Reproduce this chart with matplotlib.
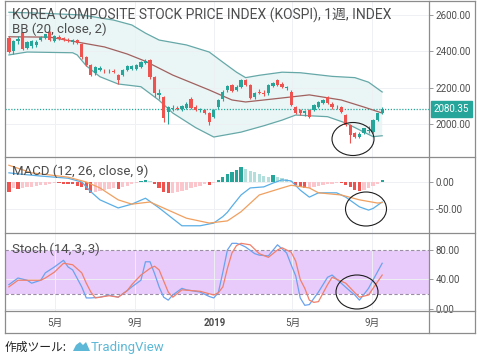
import numpy as np
import pandas as pd
import matplotlib
matplotlib.use("Agg")
import matplotlib.pyplot as plt
import matplotlib.dates as mdates
from matplotlib.patches import Ellipse, Polygon
from matplotlib.lines import Line2D

plt.rcParams['font.family'] = ['Roboto', 'Noto Sans CJK JP', 'DejaVu Sans']

W, H = 480, 361

# ---------------- data ----------------
weeks = pd.date_range("2018-02-19", periods=83, freq="7D")

opens = [2472, 2400, 2458, 2500, 2418, 2430, 2432, 2462, 2474, 2505,
         2458, 2478, 2472, 2465, 2450, 2462, 2440, 2368, 2322, 2278,
         2298, 2292, 2290, 2291, 2270, 2272, 2298, 2305, 2302, 2315,
         2338, 2350, 2258, 2160, 2148, 2064, 2085, 2088, 2080, 2090,
         2140, 2092, 2075, 2078, 2060, 2040, 2092, 2135, 2186, 2212,
         2185, 2205, 2240, 2212, 2150, 2175, 2170, 2168, 2210, 2242,
         2222, 2198, 2178, 2092, 2075, 2058, 2075, 2076, 2094, 2115,
         2148, 2110, 2094, 2092, 2049, 1994, 1950, 1930, 1950, 1960,
         1956, 2022, 2060]
highs = [2482, 2465, 2485, 2505, 2458, 2462, 2460, 2482, 2498, 2510,
         2490, 2488, 2480, 2475, 2468, 2470, 2445, 2372, 2330, 2318,
         2318, 2305, 2302, 2300, 2275, 2300, 2322, 2325, 2328, 2345,
         2355, 2358, 2262, 2192, 2155, 2100, 2105, 2100, 2105, 2120,
         2148, 2105, 2090, 2085, 2065, 2080, 2135, 2185, 2215, 2220,
         2215, 2248, 2248, 2218, 2175, 2190, 2185, 2218, 2232, 2250,
         2232, 2210, 2185, 2098, 2080, 2078, 2080, 2108, 2124, 2136,
         2152, 2120, 2102, 2100, 2055, 2000, 1958, 1955, 1980, 1990,
         2025, 2062, 2092]
lows = [2390, 2385, 2440, 2405, 2410, 2420, 2425, 2455, 2468, 2455,
        2450, 2462, 2455, 2450, 2440, 2440, 2360, 2318, 2262, 2270,
        2290, 2282, 2278, 2280, 2222, 2265, 2292, 2298, 2295, 2310,
        2330, 2250, 2150, 2140, 2008, 2000, 2070, 2075, 2070, 2080,
        2080, 2070, 2065, 2055, 1995, 2030, 2085, 2125, 2178, 2175,
        2180, 2200, 2210, 2135, 2140, 2165, 2155, 2162, 2205, 2208,
        2198, 2188, 2098, 2055, 2050, 2045, 2030, 2070, 2088, 2110,
        2110, 2085, 2085, 2060, 1990, 1895, 1920, 1922, 1945, 1952,
        1950, 2018, 2055]
closes = [2398, 2458, 2470, 2415, 2450, 2455, 2452, 2478, 2494, 2462,
          2482, 2470, 2462, 2458, 2462, 2448, 2368, 2326, 2272, 2312,
          2310, 2289, 2294, 2287, 2242, 2296, 2318, 2320, 2322, 2340,
          2345, 2260, 2168, 2172, 2030, 2094, 2090, 2082, 2098, 2112,
          2090, 2078, 2083, 2062, 2008, 2075, 2130, 2178, 2210, 2180,
          2205, 2240, 2216, 2145, 2168, 2172, 2165, 2212, 2226, 2215,
          2204, 2204, 2106, 2060, 2060, 2072, 2040, 2104, 2120, 2132,
          2115, 2094, 2092, 2066, 1996, 1940, 1929, 1945, 1975, 1967,
          2020, 2058, 2080.35]
last_price = 2080.35

# Bollinger bands (week index, value)
bb_up_idx = [0, 7, 16, 23, 27, 30, 33, 39, 44, 47, 50, 52, 55, 60, 64, 71, 76, 79, 82]
bb_up = [2615, 2610, 2600, 2572, 2545, 2500, 2462, 2435, 2396, 2340, 2285, 2255,
         2268, 2285, 2282, 2262, 2255, 2230, 2176]
bb_mid_idx = [0, 9, 15, 21, 26, 30, 36, 44, 49, 52, 60, 66, 73, 78, 82]
bb_mid = [2480, 2478, 2451, 2424, 2385, 2345, 2269, 2187, 2132, 2121, 2143, 2160,
          2132, 2093, 2060]
bb_lo_idx = [0, 4, 14, 15, 17, 20, 24, 29, 33, 36, 41, 45, 51, 56, 60, 63, 70, 74, 78, 80, 82]
bb_lo = [2380, 2396, 2392, 2380, 2320, 2260, 2220, 2205, 2130, 2060, 1980, 1928,
         1955, 1990, 2021, 2049, 2040, 2005, 1955, 1930, 1935]

# MACD
macd_idx = [0, 2, 7, 13, 16, 18, 20, 24, 27, 30, 33, 38, 42, 45, 46, 47, 48, 49,
            51, 53, 56, 58, 60, 62, 64, 66, 68, 72, 74, 77, 79, 80, 82]
macd = [17, 15, 11, 7, 0, -18, -33, -48, -41, -30, -48, -81, -81, -76, -70, -64,
        -56, -45, -24, -11, -9, -2, 4, 2, -15, -28, -20, -20, -28, -46, -52, -49, -37]
signal_idx = [0, 5, 13, 17, 20, 24, 27, 31, 35, 39, 44, 48, 51, 55, 60, 62, 66,
              68, 73, 77, 81, 82]
signal = [31, 17, 9, 0, -11, -33, -41, -37, -52, -67, -76, -72, -55, -24, -11,
          -6, -11, -20, -24, -33, -39, -38]
hist = [-18, -11, -13, -11, -10, -9, -8, -6, -5, -3,
        -1, -2, -3, -3, -4, -7, -9, -14, -20, -19,
        -17, -15, -13, -11, -13, -10, -7, -4, -2, 2,
        3, 1, -4, -12, -18, -21, -20, -18, -16, -14,
        -12, -10, -8, -4, -5, -2, 4, 9, 14, 18,
        22, 28, 24, 21, 18, 15, 12, 10, 13, 10,
        8, 5, 2, -5, -10, -12, -11, -9, -7, -5,
        -4, -3, -1, -1, -5, -10, -15, -17, -15, -11,
        -7, -3, 3]

# Stochastic
k_idx = [0, 2, 4, 5, 7, 8, 10, 12, 13, 14, 16, 17, 18, 20, 22, 24, 26, 27, 29, 30,
         31, 32, 33, 34, 35, 36, 38, 39, 42, 44, 45, 46, 47, 48, 49, 50, 51, 52,
         54, 55, 57, 59, 61, 62, 63, 64, 65, 66, 68, 70, 71, 73, 75, 76, 77, 79, 82]
k_line = [33, 42, 39, 35, 39, 49, 57, 66, 57, 53, 30, 15, 15, 16, 19, 16, 25, 30, 39, 64,
          64, 48, 30, 16, 12, 19, 28, 26, 23, 17, 15, 22, 50, 80, 89, 89, 87, 84,
          75, 73, 72, 87, 76, 60, 45, 15, 5, 6, 23, 43, 46, 35, 24, 19, 12, 28, 62]
d_idx = [0, 2, 5, 7, 8, 10, 12, 14, 16, 17, 18, 19, 22, 24, 26, 27, 29, 31, 32, 33,
         34, 35, 36, 38, 42, 45, 46, 47, 48, 49, 50, 51, 53, 55, 57, 59, 60, 62, 63,
         64, 65, 66, 67, 68, 70, 71, 74, 76, 77, 79, 82]
d_line = [30, 39, 39, 39, 42, 50, 62, 60, 49, 35, 23, 15, 18, 16, 25, 33, 46, 55, 58, 53,
          38, 23, 16, 26, 24, 19, 22, 30, 55, 76, 86, 89, 87, 75, 70, 80, 83, 77, 65,
          40, 28, 12, 9, 10, 33, 43, 35, 22, 16, 19, 46]

month_ticks = ["2018-05-01", "2018-09-01", "2019-01-01", "2019-05-01", "2019-09-01"]
month_labels = ["5月", "9月", "2019", "5月", "9月"]

# ---------------- colours ----------------
UP, DOWN = "#26a69a", "#ef5350"
BAND, BASIS, BAND_FILL = "#66a8a8", "#a0615f", "#eaf5f5"
FRAME, TXT, GRID = "#8c8c8c", "#4d4d4d", "#eef0f3"


def box(x0, y0, x1, y1):
    return [x0 / W, 1 - y1 / H, (x1 - x0) / W, (y1 - y0) / H]


def fx(x):
    return x / W


def fy(y):
    return 1 - y / H


fig = plt.figure(figsize=(4.8, 3.61), dpi=100)
ax1 = fig.add_axes(box(5, 1, 429, 157))
ax2 = fig.add_axes(box(5, 157, 429, 233), sharex=ax1)
ax3 = fig.add_axes(box(5, 233, 429, 311), sharex=ax1)

xd = mdates.date2num(weeks)
tick_x = mdates.date2num(pd.to_datetime(month_ticks))

for ax in (ax1, ax2, ax3):
    for s in ax.spines.values():
        s.set_visible(False)
    ax.set_axisbelow(True)
    ax.yaxis.tick_right()
    ax.tick_params(axis="y", direction="out", length=3, width=0.6, color=FRAME,
                   labelcolor=TXT, labelsize=7, pad=2)
    ax.set_xticks(tick_x)
    ax.grid(True, color=GRID, lw=0.7)

# ---------------- price panel ----------------
o, h, l, c = map(np.array, (opens, highs, lows, closes))
col = np.where(c >= o, UP, DOWN)
xu, xl = xd[bb_up_idx], xd[bb_lo_idx]
ax1.fill(np.r_[xu, xl[::-1]], np.r_[bb_up, bb_lo[::-1]], color=BAND_FILL, lw=0, zorder=0.5)
ax1.plot(xu, bb_up, color=BAND, lw=0.9, zorder=1.5)
ax1.plot(xl, bb_lo, color=BAND, lw=0.9, zorder=1.5)
ax1.plot(xd[bb_mid_idx], bb_mid, color=BASIS, lw=0.9, zorder=1.5)
ax1.axhline(last_price, color=UP, lw=0.9, ls=(0, (1, 1.3)), zorder=1)
ax1.vlines(xd, l, h, color=col, lw=0.8, zorder=2)
ax1.bar(xd, np.maximum(np.abs(c - o), 2), bottom=np.minimum(o, c), width=5.0,
        color=col, lw=0, zorder=2.5)
ax1.set_ylim(1818, 2677)
ax1.set_yticks([2000, 2200, 2400, 2600])
ax1.set_yticklabels([f"{v:.2f}" for v in [2000, 2200, 2400, 2600]])
ax1.annotate(f"{last_price:.2f}", xy=(1.0, last_price), xycoords=("axes fraction", "data"),
             xytext=(3.5, 0), textcoords="offset points", va="center", ha="left",
             fontsize=7, color="white",
             bbox=dict(boxstyle="square,pad=0.3", fc=UP, ec=UP))

# ---------------- MACD panel ----------------
hv = np.array(hist, dtype=float)
prev = np.r_[hv[0], hv[:-1]]
hcol = np.where(hv >= 0, np.where(hv >= prev, "#26a69a", "#b2dfdb"),
                np.where(hv <= prev, "#ef5350", "#fbc6cc"))
ax2.bar(xd, hv, width=5.0, color=hcol, lw=0, zorder=2)
ax2.plot(xd[macd_idx], macd, color="#5aaee6", lw=0.9, zorder=3)
ax2.plot(xd[signal_idx], signal, color="#f0a060", lw=0.9, zorder=3)
ax2.set_ylim(-94.4, 46.3)
ax2.set_yticks([0, -50])
ax2.set_yticklabels(["0.00", "-50.00"])

# ---------------- Stoch panel ----------------
ax3.axhspan(20, 80, color="#e8cbfa", lw=0, zorder=0.5)
for lev in (80, 20):
    ax3.axhline(lev, color="#9d8ca6", lw=0.8, ls=(0, (3, 2)), zorder=1)
ax3.plot(xd[k_idx], k_line, color="#6aa2ef", lw=0.9, zorder=3)
ax3.plot(xd[d_idx], d_line, color="#f0806c", lw=0.9, zorder=3)
ax3.set_ylim(-2.7, 103)
ax3.set_yticks([0, 40, 80])
ax3.set_yticklabels(["0.00", "40.00", "80.00"])

ax3.set_xlim(mdates.date2num(pd.Timestamp("2018-02-13")),
             mdates.date2num(pd.Timestamp("2019-11-27")))
ax3.set_xticklabels(month_labels)
ax3.tick_params(axis="x", length=0, pad=5, labelsize=7, labelcolor=TXT)
for lab in ax3.get_xticklabels():
    if lab.get_text() == "2019":
        lab.set_fontweight("bold")
for ax in (ax1, ax2):
    ax.tick_params(axis="x", length=0, labelbottom=False)

# ---------------- labels ----------------
fig.text(fx(12), fy(15), "KOREA COMPOSITE STOCK PRICE INDEX (KOSPI), 1週, INDEX",
         fontsize=10, color=TXT, va="center")
fig.text(fx(12), fy(29), "BB (20, close, 2)", fontsize=9.5, color=TXT, va="center")
fig.text(fx(12), fy(171), "MACD (12, 26, close, 9)", fontsize=9.5, color=TXT, va="center")
fig.text(fx(12), fy(249), "Stoch (14, 3, 3)", fontsize=9.5, color=TXT, va="center")

# ---------------- frame ----------------
def line(x0, y0, x1, y1):
    fig.add_artist(Line2D([fx(x0), fx(x1)], [fy(y0), fy(y1)], transform=fig.transFigure,
                          color=FRAME, lw=0.9))

line(5, 1, 475, 1)
line(5, 333, 475, 333)
line(5, 1, 5, 333)
line(475, 1, 475, 333)
line(429, 1, 429, 333)
for yy in (157, 233, 311):
    line(5, yy, 475, yy)

# hand-drawn circles
for cx, cy, ew, eh in [(353, 139, 42, 33), (366, 209, 41, 34), (357, 292, 42, 34)]:
    fig.add_artist(Ellipse((fx(cx), fy(cy)), ew / W, eh / H, transform=fig.transFigure,
                           fill=False, ec="#1e1e1e", lw=0.8))

# footer
fig.text(fx(5), fy(347), "作成ツール:", fontsize=8.5, color="#222222", va="center",
         family=["Noto Sans CJK JP", "DejaVu Sans"])
logo = [(73, 351), (76, 345), (80, 342), (83, 345), (86, 342), (90, 351)]
fig.add_artist(Polygon([(fx(px), fy(py)) for px, py in logo], closed=True,
                       transform=fig.transFigure, fc="#5cb8d6", ec="none"))
fig.text(fx(91), fy(347), "TradingView", fontsize=9.5, color="#5cb8d6", va="center")

fig.savefig("out.png", dpi=100)
